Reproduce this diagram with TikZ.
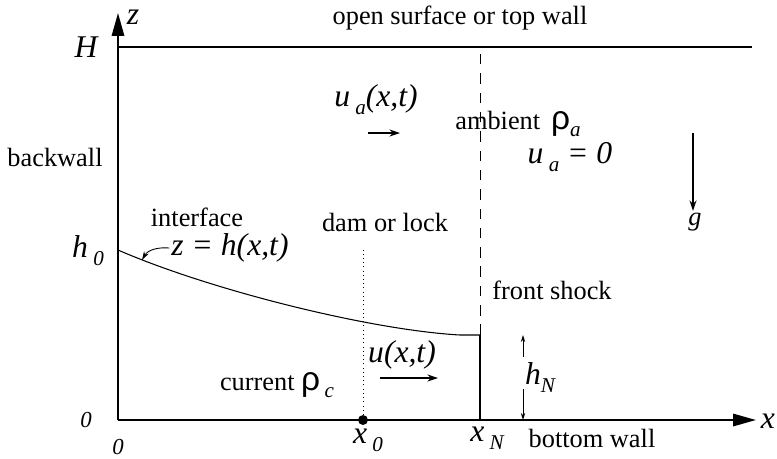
\documentclass[tikz,border=0pt]{standalone}
\usepackage{fontspec}
\setmainfont{Liberation Serif}[ItalicFont={Liberation Serif Italic}]
\newfontfamily\symfont{Liberation Sans}
\usetikzlibrary{arrows.meta,positioning,calc}
\newcommand{\sub}[1]{\raisebox{-0.55ex}{\fontsize{12}{14}\selectfont\itshape #1}}
\newcommand{\rh}{{\symfont\fontsize{19}{21}\selectfont ρ}}
\tikzset{
  wall/.style  ={line width=1.1pt},
  axis/.style  ={wall,-{Triangle[length=13pt,width=7pt]}},
  ar/.style    ={line width=0.8pt,-{Stealth[length=6pt,width=4pt]}},
  sar/.style   ={line width=0.5pt,-{Stealth[length=4pt,width=2.5pt]}},
  txt/.style   ={font=\fontsize{15}{17}\selectfont,inner sep=1pt},
  mth/.style   ={font=\fontsize{18}{20}\selectfont\itshape,inner sep=1pt},
  num/.style   ={font=\fontsize{13}{15}\selectfont\itshape,inner sep=1pt},
  dot/.style   ={circle,fill=black,inner sep=2pt},
}

\begin{document}
\begin{tikzpicture}[x=0.02cm,y=-0.02cm]
  \useasboundingbox (0,0) rectangle (777,458);
  % axes and walls
  \coordinate (O) at (118,420);
  \coordinate (ztip) at (118,13);
  \coordinate (xtip) at (756,420);
  \coordinate (Hw) at (118,47);
  \coordinate (Hr) at (752,47);
  \draw[axis] (O) -- (ztip);
  \draw[axis] (O) -- (xtip);
  \draw[wall] (Hw) -- (Hr);
  \node[mth] (z) at (133,17) {z};
  \node[mth] (x) at (768,421) {x};
  \node[mth] (H) at (86,47) {H};
  \node[txt] (top) at (460,18) {open surface or top wall};
  \node[txt] (back) at (55,157) {backwall};
  \node[txt] (bot) at (592,438) {bottom wall};
  \node[num] (z0) at (86,420) {0};
  \node[num] (x00) at (118,447) {0};
  % dam
  \node[dot] (x0d) at (363,420) {};
  \coordinate (damtop) at (363,248);
  \draw[dotted] (x0d) -- (damtop);
  \node[mth] (x0) at (368,440) {x\,\sub{0}};
  \node[txt] (dam) at (385,222) {dam or lock};
  % front shock
  \coordinate (sb) at (480,420);
  \coordinate (st) at (480,335);
  \coordinate (sd) at (480,50);
  \draw[line width=0.6pt] (sb) -- (st);
  \draw[line width=0.5pt,dash pattern=on 6pt off 5pt] (st) -- (sd);
  \node[mth] (xN) at (487,438) {x\,\sub{N}};
  \node[txt] (shock) at (552,290) {front shock};
  % interface
  \coordinate (h0) at (118,250);
  \coordinate (hk) at (460,335);
  \draw[line width=0.6pt] (h0) .. controls (210,290) and (370,330) .. (hk) -- (st);
  \node[mth] (hz) at (88,251) {h\,\sub{0}};
  \node[txt] (intf) at (197,217) {interface};
  \node[mth] (zh) at (230,248) {z = h(x,t)};
  \coordinate (hp) at (142,260);
  \draw[line width=0.5pt,-{Stealth[length=5pt,width=3pt]}] (zh.west) to[out=175,in=60] (hp);
  % ambient
  \node[mth] (ua) at (376,100) {u\,\sub{a}(x,t)};
  \coordinate (ua1) at (368,133);
  \coordinate (ua2) at (400,133);
  \draw[ar] (ua1) -- (ua2);
  \node[txt] (amb) at (518,124) {ambient \,\rh\sub{a}};
  \node[mth] (ua0) at (570,157) {u\,\sub{a} = 0};
  \coordinate (gt) at (693,133);
  \node[mth,font=\fontsize{15}{17}\selectfont\itshape] (g) at (695,222) {g};
  \draw[ar] (gt) -- (gt |- g.north);
  % current
  \node[mth] (u) at (402,355) {u(x,t)};
  \coordinate (u1) at (380,378);
  \coordinate (u2) at (438,378);
  \draw[ar] (u1) -- (u2);
  \node[txt] (cur) at (277,385) {current \rh\,\sub{c}};
  % current head
  \node[mth] (hN) at (540,378) {h\sub{N}};
  \coordinate (hNa) at (523,357);
  \coordinate (hNt) at (523,335);
  \coordinate (hNb) at (523,389);
  \coordinate (hNg) at (523,420);
  \draw[sar] (hNa) -- (hNt);
  \draw[sar] (hNb) -- (hNg);
\end{tikzpicture}
\end{document}
